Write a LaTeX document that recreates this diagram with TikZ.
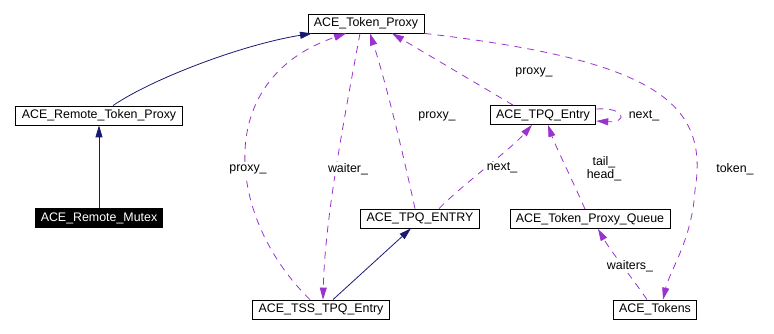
\documentclass[tikz,border=0pt]{standalone}
\usepackage{fontspec}
\setmainfont{Liberation Sans}
\usetikzlibrary{arrows.meta}
\definecolor{inherit}{HTML}{191970}
\definecolor{member}{HTML}{9A32CD}
\begin{document}
\begin{tikzpicture}[x=1pt,y=-1pt,
  font=\fontsize{12.4}{13.4}\selectfont,
  cls/.style={draw=black,line width=0.8pt,fill=white,minimum height=19pt,inner xsep=6pt,inner ysep=0pt},
  focus/.style={fill=black,text=white,minimum height=20pt,inner xsep=6pt,inner ysep=0pt},
  isa/.style={draw=inherit,line width=0.8pt,-{Triangle[length=12pt,width=7pt]}},
  uses/.style={draw=member,line width=0.8pt,dash pattern=on 7pt off 6pt,-{Triangle[length=12pt,width=7pt]}},
  lbl/.style={fill=white,inner sep=1pt}]
\useasboundingbox (0,0) rectangle (774,334);

% classes
\node[cls]   (tp)  at (366,23.5)  {ACE\_Token\_Proxy};
\node[cls]   (rtp) at (99,115.5)  {ACE\_Remote\_Token\_Proxy};
\node[focus] (rm)  at (99,218)    {ACE\_Remote\_Mutex};
\node[cls]   (te)  at (543,115)   {ACE\_TPQ\_Entry};
\node[cls]   (tE)  at (420,218.5) {ACE\_TPQ\_ENTRY};
\node[cls]   (q)   at (590,219)   {ACE\_Token\_Proxy\_Queue};
\node[cls]   (ts)  at (321,309.5) {ACE\_TSS\_TPQ\_Entry};
\node[cls]   (tk)  at (655,309.5) {ACE\_Tokens};

% inheritance
\draw[isa] ([xshift=14pt]rtp.north) .. controls (150,80) and (240,45) .. ([xshift=-54pt]tp.south);
\draw[isa] (rm.north) -- (rtp.south);
\draw[isa] ([xshift=12pt]ts.north) -- ([xshift=-9pt]tE.south);

% members
\draw[uses] ([xshift=-11pt]ts.north) .. controls (228,220) and (210,80) .. ([xshift=-20pt]tp.south);
\draw[uses] ([xshift=-6pt]tp.south) .. controls (342,130) and (325,220) .. ([xshift=2pt]ts.north);
\draw[uses] ([xshift=-5pt]tE.north) .. controls (400,140) and (385,80) .. ([xshift=4pt]tp.south);
\draw[uses] ([xshift=-30pt]te.north) -- ([xshift=26pt]tp.south);
\draw[uses] (tp.south east) .. controls (650,60) and (710,100) .. (695,190)
            .. controls (692,240) and (670,270) .. ([xshift=8pt]tk.north);
\draw[uses] ([yshift=6pt]te.east) .. controls (626,107) and (628,123) .. ([yshift=-6pt]te.east);
\draw[uses] ([xshift=19pt]tE.north) .. controls (462,185) and (510,150) .. ([xshift=-11pt]te.south);
\draw[uses] ([xshift=-5pt]q.north) .. controls (570,175) and (555,145) .. ([xshift=5pt]te.south);
\draw[uses] ([xshift=-8pt]tk.north) .. controls (630,275) and (610,250) .. ([xshift=8pt]q.south);

% member labels
\node[lbl] (l1) at (248,169) {proxy\_};
\node[lbl] (l2) at (348,169) {waiter\_};
\node[lbl] (l3) at (437,116) {proxy\_};
\node[lbl] (l4) at (502,168) {next\_};
\node[lbl] (l5) at (534,72)  {proxy\_};
\node[lbl] (l6) at (644,116) {next\_};
\node[lbl,align=center] (l7) at (604,169) {tail\_\\head\_};
\node[lbl] (l8) at (735,169) {token\_};
\node[lbl] (l9) at (630,266) {waiters\_};
\end{tikzpicture}
\end{document}
